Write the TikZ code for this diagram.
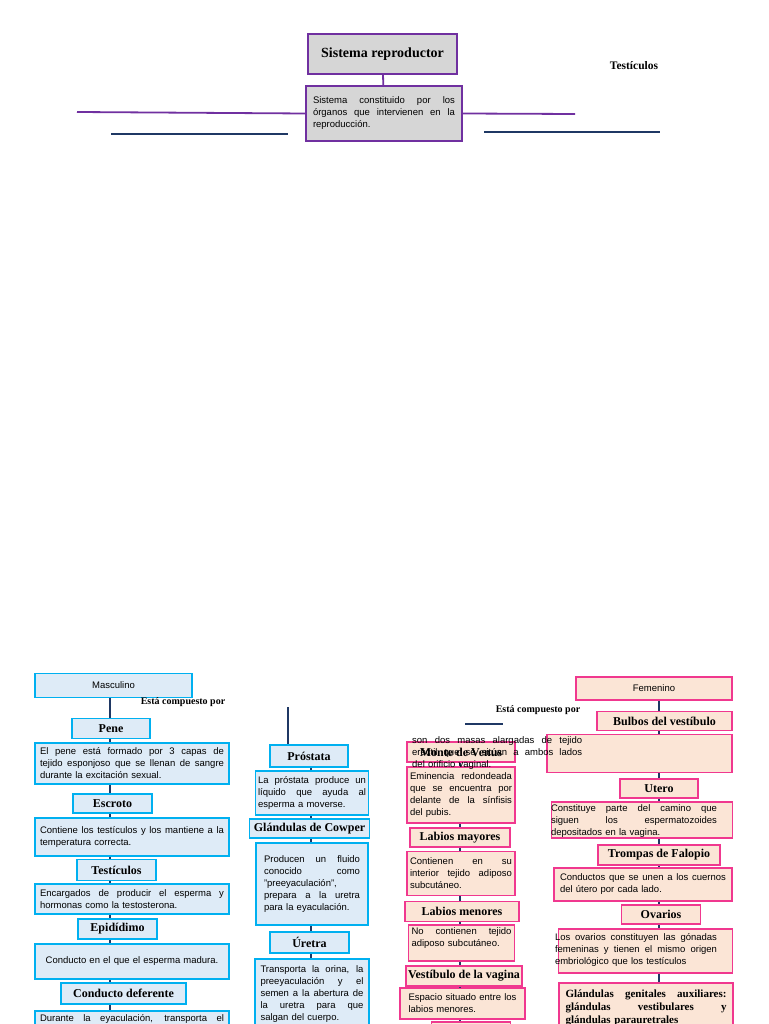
\documentclass[tikz,border=0pt]{standalone}
\usepackage{fontspec}
\setmainfont{Liberation Serif}
\setsansfont{Liberation Sans}
\usepackage{tikz}

\definecolor{morado}{HTML}{7030A0}
\definecolor{gris}{HTML}{D6D6D6}
\definecolor{azul}{HTML}{00B0F0}
\definecolor{celeste}{HTML}{DEEBF7}
\definecolor{rosa}{HTML}{F0388F}
\definecolor{durazno}{HTML}{FBE5D6}
\definecolor{marino}{HTML}{1F3864}
\newdimen\anchojl
\newcommand{\jl}[1]{\makebox[\anchojl][s]{\spaceskip=0pt\xspaceskip=0pt #1}}
\tikzset{
	sz/.style 2 args={minimum width=#1pt, minimum height=#2pt},
	titbox/.style={draw=morado, fill=gris, line width=1.8pt, inner sep=0pt},
	mascbox/.style={draw=azul, fill=celeste, line width=1.5pt, inner sep=0pt},
	fembox/.style={draw=rosa, fill=durazno, line width=1.5pt, inner sep=0pt},
	head/.style={font=\bfseries\fontsize{12}{14}\selectfont},
	txt/.style={font=\sffamily\fontsize{9.5}{12}\selectfont, align=left, text width=#1pt, /utils/exec={\global\anchojl=#1pt\relax}},
	conn/.style={draw=marino, line width=1.6pt},
	liga/.style={draw=morado, line width=1.8pt}
}

\begin{document}
\begin{tikzpicture}[x=1pt, y=-1pt]
	\useasboundingbox (0,0) rectangle (768,1024);
	\clip (0,0) rectangle (768,1024);
	\node[titbox, sz={149}{40}, font=\bfseries\fontsize{14}{16}\selectfont] (sistema) at (382.5,54) {Sistema reproductor};
	\node[titbox, txt=142, sz={156}{55}] (definicion) at (384,113.5) {\jl{Sistema constituido por los}\\ \jl{órganos que intervienen en la}\\ reproducción.};
	\node[font=\bfseries\fontsize{11.5}{13}\selectfont] (testarriba) at (634,66) {Testículos};
	\coordinate (izq) at (77,112);
	\coordinate (der) at (575,114);
	\coordinate (a1) at (111,134);
	\coordinate (a2) at (288,134);
	\coordinate (b1) at (484,132);
	\coordinate (b2) at (660,132);
	\draw[liga] (sistema) -- (definicion);
	\draw[liga] (izq) -- (definicion.west);
	\draw[liga] (definicion.east) -- (der);
	\draw[conn] (a1) -- (a2);
	\draw[conn] (b1) -- (b2);

	\node[mascbox, sz={157}{24}, font=\sffamily\fontsize{9.5}{12}\selectfont] (masc) at (113.5,685.5) {Masculino};
	\node[font=\bfseries\fontsize{10}{12}\selectfont] (compm) at (183,702) {Está compuesto por};
	\node[mascbox, head, sz={78}{20}] (pene) at (111,728.5) {Pene};
	\node[mascbox, txt=184, sz={194}{41}] (penetxt) at (132,763.5) {\jl{El pene está formado por 3 capas de}\\ \jl{tejido esponjoso que se llenan de sangre}\\ durante la excitación sexual.};
	\node[mascbox, head, sz={79}{19}] (escroto) at (112.5,803.5) {Escroto};
	\node[mascbox, txt=184, sz={194}{38}] (escrotxt) at (132,837) {\jl{Contiene los testículos y los mantiene a la}\\ temperatura correcta.};
	\node[mascbox, head, sz={79}{21}] (testic) at (116.5,870) {Testículos};
	\node[mascbox, txt=184, sz={194}{30}] (testitxt) at (132,899) {\jl{Encargados de producir el esperma y}\\ hormonas como la testosterona.};
	\node[mascbox, head, sz={79}{20}] (epidid) at (117.5,929) {Epidídimo};
	\node[mascbox, txt=184, align=center, sz={194}{35}] (epiditxt) at (132,961.5) {Conducto en el que el esperma madura.};
	\node[mascbox, head, sz={125}{21}] (conducto) at (123.5,993.5) {Conducto deferente};
	\node[mascbox, txt=184, minimum width=194pt, inner ysep=4pt, anchor=north] (conductxt) at (132,1010) {\jl{Durante la eyaculación, transporta el}};
	\coordinate (colm) at (110,0);
	\draw[conn] (masc.south -| colm) -- (pene.north -| colm)
		(pene.south -| colm) -- (penetxt.north -| colm)
		(penetxt.south -| colm) -- (escroto.north -| colm)
		(escroto.south -| colm) -- (escrotxt.north -| colm)
		(escrotxt.south -| colm) -- (testic.north -| colm)
		(testic.south -| colm) -- (testitxt.north -| colm)
		(testitxt.south -| colm) -- (epidid.north -| colm)
		(epidid.south -| colm) -- (epiditxt.north -| colm)
		(epiditxt.south -| colm) -- (conducto.north -| colm)
		(conducto.south -| colm) -- (conductxt.north -| colm);

	\node[mascbox, head, sz={78}{22}] (prostata) at (309,756) {Próstata};
	\node[mascbox, txt=108, sz={113}{44}] (prostxt) at (312,793) {\jl{La próstata produce un}\\ \jl{líquido que ayuda al}\\ esperma a moverse.};
	\node[mascbox, head, sz={120}{19}] (cowper) at (309.5,828.5) {Glándulas de Cowper};
	\node[mascbox, txt=96, sz={112}{82}] (cowptxt) at (312,884) {\jl{Producen un fluido}\\ \jl{conocido como}\\ "preeyaculación",\\ \jl{prepara a la uretra}\\ para la eyaculación.};
	\node[mascbox, head, sz={79}{21}] (uretra) at (309.5,942.5) {Úretra};
	\node[mascbox, txt=103, sz={114}{70}, anchor=north] (uretxt) at (312,958) {\jl{Transporta la orina, la}\\ \jl{preeyaculación y el}\\ \jl{semen a la abertura de}\\ \jl{la uretra para que}\\ salgan del cuerpo.};
	\coordinate (arriba) at (288,707);
	\coordinate (colc) at (311,0);
	\draw[conn] (arriba) -- (arriba |- prostata.north);
	\draw[conn] (prostata.south -| colc) -- (prostxt.north -| colc)
		(prostxt.south -| colc) -- (cowper.north -| colc)
		(cowper.south -| colc) -- (cowptxt.north -| colc)
		(cowptxt.south -| colc) -- (uretra.north -| colc)
		(uretra.south -| colc) -- (uretxt.north -| colc);

	\node[font=\bfseries\fontsize{10}{12}\selectfont] (compf) at (538,710) {Está compuesto por};
	\coordinate (t1) at (465,724);
	\coordinate (t2) at (503,724);
	\draw[conn] (t1) -- (t2);
	\node[fembox, head, sz={108}{20}] (monte) at (461,752) {Monte de Venus};
	\node[fembox, txt=102, sz={108}{56}] (montetxt) at (461,795) {\jl{Eminencia redondeada}\\ \jl{que se encuentra por}\\ \jl{delante de la sínfisis}\\ del pubis.};
	\node[fembox, head, sz={100}{19}] (lmay) at (460,837.5) {Labios mayores};
	\node[fembox, txt=102, sz={108}{44}] (lmaytxt) at (461,873.5) {\jl{Contienen en su}\\ \jl{interior tejido adiposo}\\ subcutáneo.};
	\node[fembox, head, sz={114}{20}] (lmen) at (462,911.5) {Labios menores};
	\node[fembox, txt=100, sz={106}{36}] (lmentxt) at (461.5,943) {\jl{No contienen tejido}\\ adiposo subcutáneo.\\ \mbox{}};
	\node[fembox, head, sz={116}{20}] (vest) at (464,976) {Vestíbulo de la vagina};
	\node[fembox, txt=108, sz={125}{31}] (vesttxt) at (462.5,1003.5) {\jl{Espacio situado entre los}\\ labios menores.};
	\node[fembox, sz={79}{20}, anchor=north] (ultimo) at (471,1021) {};
	\coordinate (colf) at (460,0);
	\draw[conn] (monte.south -| colf) -- (montetxt.north -| colf)
		(montetxt.south -| colf) -- (lmay.north -| colf)
		(lmay.south -| colf) -- (lmaytxt.north -| colf)
		(lmaytxt.south -| colf) -- (lmen.north -| colf)
		(lmen.south -| colf) -- (lmentxt.north -| colf)
		(lmentxt.south -| colf) -- (vest.north -| colf)
		(vest.south -| colf) -- (vesttxt.north -| colf)
		(vesttxt.south -| colf) -- (ultimo.north -| colf);

	\node[fembox, sz={156}{23}, font=\sffamily\fontsize{9.5}{12}\selectfont] (fem) at (654,688.5) {Femenino};
	\node[fembox, head, sz={135}{19}] (bulbos) at (664.5,721) {Bulbos del vestíbulo};
	\node[fembox, sz={185}{38}] (bulbtxt) at (639.5,753.5) {};
	\node[fembox, head, sz={78}{19}] (utero) at (659,788.5) {Utero};
	\node[fembox, sz={181}{36}] (uterbox) at (642,820) {};
	\node[txt=166, inner sep=0pt] (utertxt) at (634,821) {\jl{Constituye parte del camino que}\\ \jl{siguen los espermatozoides}\\ depositados en la vagina.};
	\node[fembox, head, sz={122}{20}] (trompas) at (659,855) {Trompas de Falopio};
	\node[fembox, txt=166, sz={178}{33}] (tromtxt) at (643,884.5) {\jl{Conductos que se unen a los cuernos}\\ del útero por cada lado.};
	\node[fembox, head, sz={79}{19}] (ovarios) at (661,914.5) {Ovarios};
	\node[fembox, sz={174}{44}] (ovarbox) at (645.5,951) {};
	\node[txt=162, inner sep=0pt] (ovartxt) at (636,950) {\jl{Los ovarios constituyen las gónadas}\\ \jl{femeninas y tienen el mismo origen}\\ embriológico que los testículos};
	\node[fembox, txt=161, sz={174}{50}, anchor=north, font=\bfseries\fontsize{11}{13}\selectfont] (glandbox) at (646,982) {\jl{Glándulas genitales auxiliares:}\\ \jl{glándulas vestibulares y}\\ glándulas parauretrales};
	\coordinate (colr) at (659,0);
	\draw[conn] (fem.south -| colr) -- (bulbos.north -| colr)
		(bulbos.south -| colr) -- (bulbtxt.north -| colr)
		(bulbtxt.south -| colr) -- (utero.north -| colr)
		(utero.south -| colr) -- (uterbox.north -| colr)
		(uterbox.south -| colr) -- (trompas.north -| colr)
		(trompas.south -| colr) -- (tromtxt.north -| colr)
		(tromtxt.south -| colr) -- (ovarios.north -| colr)
		(ovarios.south -| colr) -- (ovarbox.north -| colr)
		(ovarbox.south -| colr) -- (glandbox.north -| colr);

	\node[txt=170, inner sep=0pt, anchor=north west] (bulbostxt) at (412,736) {\jl{son dos masas alargadas de tejido}\\ \jl{eréctil que se sitúan a ambos lados}\\ del orificio vaginal.};
\end{tikzpicture}
\end{document}
